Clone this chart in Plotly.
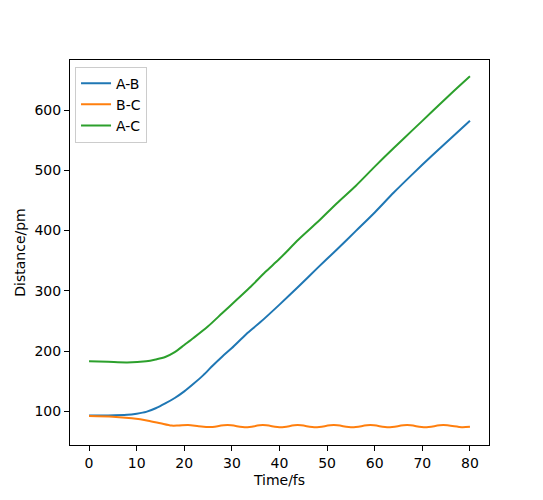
import plotly.graph_objects as go

# A-B distance
t_ab = [0, 4, 8, 10, 12, 14, 16, 18, 20, 22, 24, 26, 28, 30, 33, 36, 40, 44, 48, 52, 56, 60, 64, 68, 72, 76, 80]
d_ab = [93, 93, 94, 96, 99, 105, 113, 122, 133, 146, 160, 176, 191, 205, 228, 248, 277, 307, 338, 368, 399, 430, 463, 494, 524, 553, 582]

# B-C distance
t_bc = [0, 5, 9, 12.4, 15, 17.3, 18.8, 20.8, 23, 25.3, 29.1, 33, 36.5, 40.3, 43.8, 47.6, 51.4, 55.3, 59.1, 62.9, 66.8, 70.6, 74.4, 78.3, 80]
d_bc = [92, 91, 88.3, 84.4, 80, 76.2, 76.3, 77.0, 75.3, 73.8, 77.0, 73.6, 77.0, 73.6, 77.0, 73.6, 77.0, 73.6, 77.0, 73.6, 77.0, 73.6, 77.0, 73.6, 74.2]

# A-C distance
t_ac = [0, 4, 8, 12, 14, 16, 18, 20, 22, 25, 28, 31, 34, 37, 40, 44, 48, 52, 56, 60, 64, 68, 72, 76, 80]
d_ac = [183, 182, 181, 183, 186, 190, 198, 210, 222, 241, 263, 285, 307, 331, 353, 385, 414, 445, 474, 506, 537, 567, 597, 627, 656]

x_ticks = [0, 10, 20, 30, 40, 50, 60, 70, 80]
y_ticks = [100, 200, 300, 400, 500, 600]

series = [
    ("A-B", t_ab, d_ab, "#1f77b4"),
    ("B-C", t_bc, d_bc, "#ff7f0e"),
    ("A-C", t_ac, d_ac, "#2ca02c"),
]

fig = go.Figure()
for name, t, d, c in series:
    fig.add_trace(go.Scatter(
        x=t, y=d, mode="lines", name=name,
        line=dict(color=c, width=2, shape="spline", smoothing=0.8),
    ))

axis_common = dict(
    showgrid=False, zeroline=False, showline=True, linecolor="black", linewidth=1,
    mirror=True, ticks="outside", ticklen=5, tickwidth=1, tickcolor="black",
    tickfont=dict(family="DejaVu Sans", size=14, color="black"),
)

fig.update_layout(
    width=535, height=492,
    margin=dict(l=60, r=54, t=52, b=55),
    paper_bgcolor="white", plot_bgcolor="white",
    font=dict(family="DejaVu Sans", size=14, color="black"),
    xaxis=dict(range=[-4, 84], tickvals=x_ticks,
               title=dict(text="Time/fs", standoff=5, font=dict(size=14)),
               **axis_common),
    yaxis=dict(range=[44, 683], tickvals=y_ticks,
               title=dict(text="Distance/pm", standoff=5, font=dict(size=14)),
               **axis_common),
    legend=dict(x=0.012, y=0.983, xanchor="left", yanchor="top",
                bordercolor="#cccccc", borderwidth=1, bgcolor="rgba(255,255,255,0.8)",
                font=dict(size=14), tracegroupgap=0, itemwidth=30),
    showlegend=True,
)

fig.write_html("out.html")
